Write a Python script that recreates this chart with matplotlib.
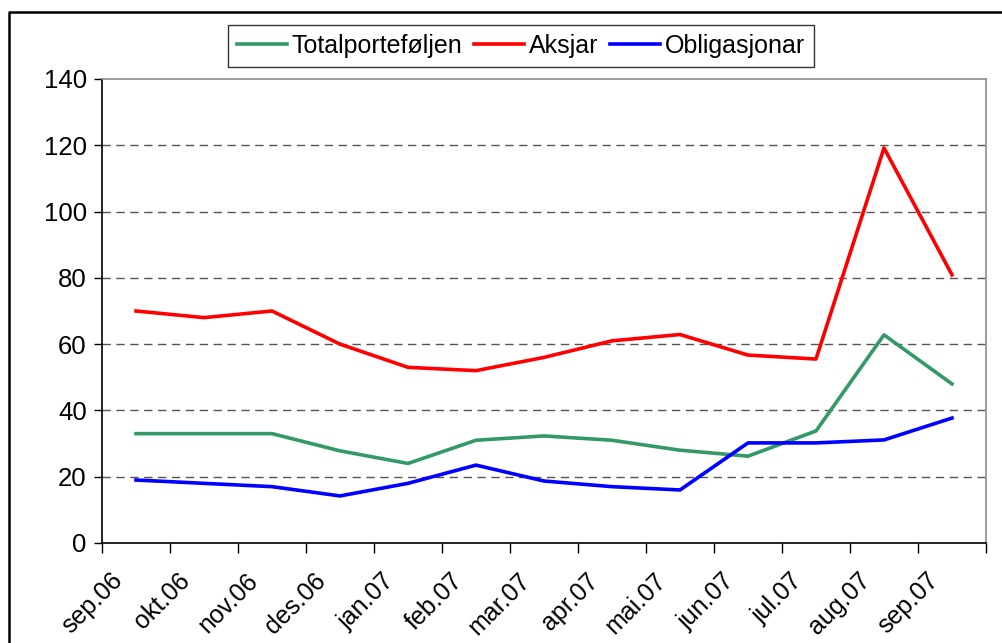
import matplotlib.pyplot as plt
from matplotlib.lines import Line2D
from matplotlib.transforms import ScaledTranslation
import numpy as np

plt.rcParams["font.family"] = ["Liberation Sans", "DejaVu Sans"]

months = ["sep.06", "okt.06", "nov.06", "des.06", "jan.07", "feb.07", "mar.07",
          "apr.07", "mai.07", "jun.07", "jul.07", "aug.07", "sep.07"]
total = [33, 33, 33, 27.8, 24, 31, 32.3, 31, 28, 26.2, 33.8, 62.8, 48]
aksjar = [70, 68, 70, 60, 53, 52, 56, 61, 62.9, 56.7, 55.5, 119.2, 80.9]
obligasjonar = [19, 18, 17, 14.2, 18, 23.5, 18.7, 17, 16, 30.2, 30.2, 31.1, 37.7]
yticks = [0, 20, 40, 60, 80, 100, 120, 140]

fig = plt.figure(figsize=(10.02, 6.43), dpi=100)
ax = fig.add_axes([102 / 1002, 1 - 543 / 643, (986 - 102) / 1002, (543 - 79) / 643])

x = np.arange(len(months))
ax.plot(x, total, color="#339966", lw=2.6, label="Totalporteføljen")
ax.plot(x, aksjar, color="#ff0000", lw=2.6, label="Aksjar")
ax.plot(x, obligasjonar, color="#0000ff", lw=2.6, label="Obligasjonar")

ax.set_xlim(-0.5, len(months) - 0.5)
ax.set_ylim(0, 140)
ax.set_yticks(yticks)
ax.tick_params(axis="y", labelsize=18.5, length=6, width=1, pad=5, direction="out")

# category boundaries carry the tick marks, centres carry the labels
ax.set_xticks(np.arange(-0.5, len(months)), labels=[])
ax.set_xticks(x, labels=months, minor=True)
ax.tick_params(axis="x", which="major", length=7, width=1, direction="out")
ax.tick_params(axis="x", which="minor", length=0, pad=14, labelsize=18)
shift = ScaledTranslation(-0.26, -0.06, fig.dpi_scale_trans)
for lab in ax.get_xticklabels(minor=True):
    lab.set_rotation(45)
    lab.set_ha("right")
    lab.set_va("top")
    lab.set_rotation_mode("anchor")
    lab.set_transform(lab.get_transform() + shift)

for v in yticks[1:-1]:
    ax.axhline(v, color="#555555", lw=1, ls=(0, (6, 4)), zorder=0)

ax.spines["left"].set_color("black")
ax.spines["bottom"].set_color("black")
ax.spines["top"].set_color("#8c8c8c")
ax.spines["right"].set_color("#8c8c8c")
for s in ax.spines.values():
    s.set_linewidth(1.2)

leg = fig.legend(loc="center", bbox_to_anchor=(521 / 1002, 1 - 46 / 643), ncol=3,
                 fontsize=18, frameon=True, fancybox=False, handlelength=2.0,
                 handletextpad=0.2, columnspacing=0.45, borderpad=0.35)
leg.get_frame().set_edgecolor("black")
leg.get_frame().set_linewidth(1)

# outer chart frame, cut off at right and bottom
fig.add_artist(Line2D([9 / 1002, 9 / 1002, 1.05], [-0.01, 1 - 12 / 643, 1 - 12 / 643],
                      transform=fig.transFigure, color="black", lw=1.8))

fig.savefig("out.png", dpi=100)
